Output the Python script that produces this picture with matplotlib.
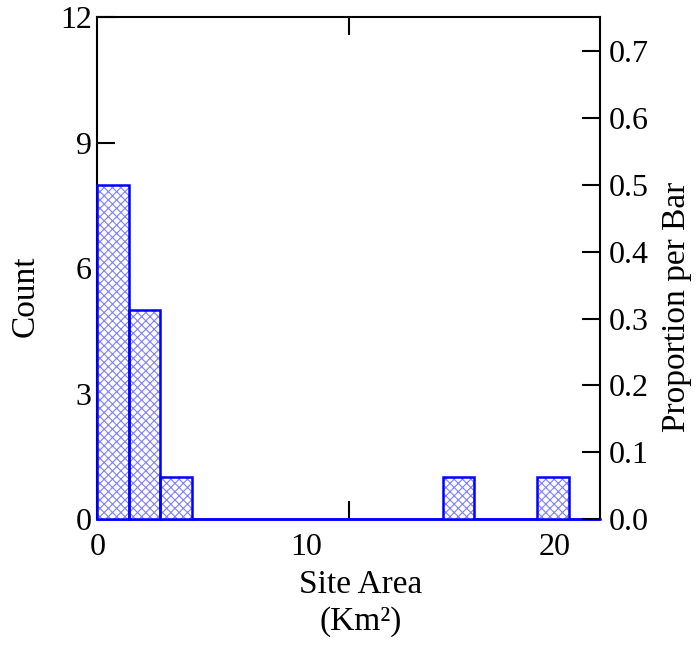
import matplotlib
matplotlib.use("Agg")
import matplotlib.pyplot as plt
import matplotlib.transforms as mtransforms
import numpy as np

plt.rcParams['font.family'] = ['Liberation Serif', 'DejaVu Serif']
plt.rcParams['hatch.linewidth'] = 0.8

# histogram of site areas (16 bins over 0..22 km2)
bin_edges = np.linspace(0, 22, 17)
counts = [8, 5, 1, 0, 0, 0, 0, 0, 0, 0, 0, 1, 0, 0, 1, 0]
n_total = sum(counts)

count_ticks = [0, 3, 6, 9, 12]
prop_ticks = [0.0, 0.1, 0.2, 0.3, 0.4, 0.5, 0.6, 0.7]
x_labels = ['0', '10', '20']
x_label_pos = [0, 10, 20]

fig = plt.figure(figsize=(6.98, 6.46), dpi=100)
ax = fig.add_axes([97.3 / 698, 1 - 519.3 / 646, 502.7 / 698, 502 / 646])

widths = np.diff(bin_edges)
# light crosshatch fill, then solid blue outline on top
ax.bar(bin_edges[:-1], counts, width=widths, align='edge', color='white',
       edgecolor='#7f7fff', linewidth=0, hatch='xxxx', zorder=3)
ax.bar(bin_edges[:-1], counts, width=widths, align='edge', fill=False,
       edgecolor='#0000ff', linewidth=1.8, zorder=4, clip_on=False)

ax.set_xlim(0, 22)
ax.set_ylim(0, 12)
ax.set_yticks(count_ticks)
ax.set_xticks(x_label_pos)
ax.set_xticklabels(x_labels)
ax.set_xticks([11], minor=True)
ax.tick_params(axis='x', which='major', length=0, pad=10, labelsize=23)
ax.tick_params(axis='x', which='minor', direction='in', length=13, width=1.5,
               top=True, bottom=True)
ax.tick_params(axis='y', direction='in', length=13, width=1.5, pad=4,
               labelsize=23)
# the "10" label sits a bit left in the original
lab10 = ax.get_xticklabels()[1]
lab10.set_transform(lab10.get_transform() +
                    mtransforms.ScaledTranslation(-0.2, 0, fig.dpi_scale_trans))

for s in ['left', 'right', 'top']:
    ax.spines[s].set_linewidth(1.5)
ax.spines['bottom'].set_color('#0000ff')
ax.spines['bottom'].set_linewidth(1.8)

ax2 = ax.twinx()
ax2.set_ylim(0, 12 / n_total)
ax2.set_yticks(prop_ticks)
ax2.set_yticklabels([f'{v:.1f}' for v in prop_ticks])
ax2.tick_params(axis='y', direction='in', length=13, width=1.5, pad=6,
                labelsize=23)
for s in ax2.spines.values():
    s.set_visible(False)

fig.text(25 / 698, 1 - 296 / 646, 'Count', rotation=90, ha='center',
         va='center', fontsize=24)
fig.text(677 / 698, 1 - 307 / 646, 'Proportion per Bar', rotation=90,
         ha='center', va='center', fontsize=24)
fig.text(361 / 698, 1 - 585 / 646, 'Site Area', ha='center', va='center',
         fontsize=24)
fig.text(361 / 698, 1 - 622 / 646, '(Km²)', ha='center', va='center',
         fontsize=24)

fig.savefig('out.png', dpi=100)
